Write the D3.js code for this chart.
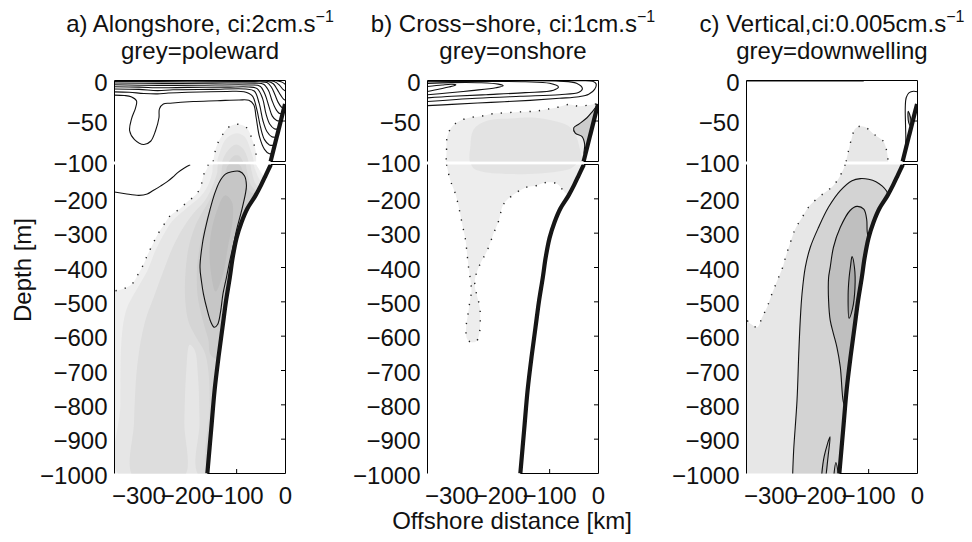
<!DOCTYPE html>
<html>
<head>
<meta charset="utf-8">
<script src="https://cdn.jsdelivr.net/npm/d3@7"></script>
<style>
  html, body { margin: 0; background: #fff; }
  svg { display: block; }
  text { font-family: "Liberation Sans", Arial, Helvetica, sans-serif; fill: #111; }
</style>
</head>
<body>
<svg id="fig" width="972" height="542"></svg>
<script>
// ---------------- axis ticks and labels ----------------
const distTicks = [-300, -200, -100, 0];
const depthTicksTop = [0, -50, -100];
const depthTicksBottom = [-200, -300, -400, -500, -600, -700, -800, -900, -1000];
const panelTitles = ["a) Alongshore, ci:2cm.s", "b) Cross\u2212shore, ci:1cm.s", "c) Vertical,ci:0.005cm.s"];
const panelTitleExp = ["\u22121", "\u22121", "\u22121"];
const panelSubtitles = ["grey=poleward", "grey=onshore", "grey=downwelling"];

// ---------------- bathymetry [km offshore, depth m] ----------------
const shelfBreak = [[-30.5, -100], [-1, -29]];
const slope = [[-30, -100], [-40, -130], [-50, -160], [-62, -192], [-78, -228], [-90, -268], [-100, -313],
  [-108, -370], [-114, -429], [-122, -500], [-129, -575], [-137, -660], [-145, -756], [-152, -870], [-160, -1000]];

// ---------------- a) alongshore velocity ----------------
const alongTopShading = [
  {level: 0, pts: [[-149, -106], [-148, -100], [-141, -81], [-131, -69], [-117, -58], [-100, -54], [-80, -58], [-68, -73], [-61, -87], [-60, -100], [-60, -106]]},
  {level: 1, pts: [[-138, -106], [-133, -86], [-120, -71], [-100, -65], [-84, -69], [-73, -83], [-67, -106]]},
  {level: 2, pts: [[-129, -106], [-121, -89], [-101, -79], [-86, -85], [-77, -106]]},
  {level: 3, pts: [[-118, -106], [-108, -94], [-95, -93], [-86, -106]]}
];
const alongCore = [[-94, -120], [-110, -121], [-123, -128], [-135, -150], [-145, -185], [-155, -234], [-163, -280],
  [-170, -330], [-175, -399], [-172, -440], [-168, -477], [-160, -525], [-153, -558], [-146, -574], [-139, -566],
  [-133, -530], [-128, -477], [-121, -430], [-114, -380], [-106, -330], [-100, -290], [-90, -235], [-82, -185],
  [-80, -160], [-84, -133]];
const alongBottomShading = [
  {level: 0, pts: [[-158, -95], [-160, -110], [-168, -132], [-175, -171], [-189, -195], [-202, -210], [-216, -229], [-236, -249],
    [-250, -278], [-263, -307], [-273, -336], [-283, -365], [-290, -389], [-301, -418], [-314, -448], [-331, -462],
    [-345, -467], [-355, -468], [-355, -1010], [5, -1010], [5, -140], [-42, -135], [-55, -112], [-60, -100], [-62, -95]]},
  {level: 1, pts: [[-146, -95], [-150, -125], [-160, -165], [-175, -195], [-205, -230], [-232, -265], [-250, -305], [-266, -350],
    [-283, -410], [-305, -465], [-325, -520], [-335, -600], [-338, -800], [-338, -1010], [5, -1010], [5, -150],
    [-48, -150], [-62, -115], [-68, -95]]},
  {level: 2, pts: [[-136, -95], [-140, -125], [-150, -165], [-165, -205], [-190, -245], [-212, -290], [-232, -345], [-250, -410],
    [-268, -480], [-288, -560], [-303, -680], [-310, -850], [-311, -1010], [-208, -1010], [-207, -850], [-203, -700],
    [-196, -625], [-186, -640], [-179, -720], [-176, -850], [-175, -1010], [5, -1010], [5, -165], [-56, -165],
    [-70, -115], [-74, -95]]},
  {level: 3, pts: [[-126, -95], [-132, -130], [-142, -170], [-160, -215], [-182, -270], [-198, -340], [-205, -420], [-205, -500],
    [-198, -560], [-182, -605], [-166, -645], [-158, -700], [-155, -800], [-153, -1010], [5, -1010], [5, -172],
    [-64, -172], [-80, -112], [-83, -95]]},
  {level: 4, pts: [[-116, -100], [-126, -140], [-142, -190], [-160, -250], [-173, -320], [-181, -400], [-180, -480], [-170, -550],
    [-158, -610], [-150, -660], [5, -660], [5, -190], [-72, -180], [-86, -125], [-95, -100]]},
  {level: 5, pts: alongCore},
  {level: 6, pts: [[-124, -190], [-144, -250], [-155, -330], [-153, -410], [-143, -470], [-128, -420], [-118, -340], [-108, -262], [-110, -208]]}
];
const alongTopContours = [
  [[-350, -18], [-330, -18.5], [-316, -20], [-305, -25], [-307, -34], [-315, -47], [-319, -62], [-309, -73], [-290, -79],
   [-276, -75], [-266, -62], [-259, -46], [-258, -35], [-250, -29], [-236, -28], [-189, -26], [-140, -25], [-95, -24],
   [-75, -24.5], [-65, -30], [-60, -46], [-53, -70], [-43, -85], [-33, -90.5], [-26.5, -90]],
  [[-350, -14], [-320, -14.5], [-290, -16], [-262, -16.5], [-240, -15.5], [-200, -14.5], [-120, -13.5], [-85, -14],
   [-68, -19], [-59, -35], [-51, -58], [-43, -73], [-33, -79.5], [-22, -80]],
  [[-350, -10.5], [-300, -11], [-262, -12.5], [-230, -11.5], [-150, -11], [-82, -10.5], [-64, -13], [-54, -28], [-46, -50],
   [-38, -63], [-28, -69.5], [-18, -70]],
  [[-350, -7.8], [-300, -8.2], [-255, -9], [-200, -8.5], [-120, -8.2], [-76, -8], [-58, -10], [-47, -22], [-40, -41],
   [-32, -54], [-23, -59.5], [-14, -60]],
  [[-350, -5.3], [-260, -6], [-180, -5.8], [-72, -5.5], [-52, -7], [-42, -17], [-34, -32], [-27, -44], [-18, -49.5], [-10, -50]],
  [[-350, -3], [-250, -3.6], [-150, -3.3], [-62, -3.3], [-45, -4.5], [-35, -12], [-28, -24], [-21, -34], [-13, -40.5], [-6, -41]],
  [[-350, -1.2], [-200, -1.5], [-100, -1.4], [-52, -1.6], [-38, -2.6], [-29, -8], [-22, -17], [-15, -27], [-8, -33], [-3, -34]],
  [[-70, -0.6], [-38, -1], [-25, -4], [-17, -11], [-10, -18], [-4, -23], [0, -24.5]],
  [[-40, -0.4], [-22, -1.5], [-12, -6], [-5, -11], [0, -13]],
  [[-20, -0.3], [-9, -1.5], [-3, -3.5], [0, -5]]
];
const alongBottomContours = [
  [[-350, -180], [-328, -185], [-300, -190], [-283, -186], [-271, -176], [-256, -163], [-242, -150], [-230, -136],
   [-220, -123], [-207, -110], [-195, -101]]
];
const alongZeroTop = [[-148, -100], [-141, -81], [-131, -69], [-117, -58], [-100, -54], [-80, -58], [-68, -73], [-61, -87], [-60, -100]];
const alongZeroBottom = [[-158, -100], [-168, -132], [-175, -171], [-189, -195], [-202, -210], [-216, -229], [-236, -249],
  [-250, -278], [-263, -307], [-273, -336], [-283, -365], [-290, -389], [-301, -418], [-314, -448], [-331, -462],
  [-345, -467], [-350, -468]];

// ---------------- b) cross-shore velocity ----------------
const crossNearshore = [[-2, -30], [-12, -38], [-23.6, -46], [-40.5, -54], [-50.7, -58.5], [-47.5, -65], [-34, -69],
  [-28.3, -79], [-29.5, -90], [-27, -93]];
const crossTopShading = [
  {level: 0, pts: [[-5, -29], [-13, -29.6], [-40.5, -31.7], [-61, -29.6], [-88, -33.7], [-109, -35.8], [-129, -37.9], [-156, -38.6],
    [-190, -39.9], [-217, -41.1], [-241, -44.1], [-265, -46], [-285, -50.2], [-299, -56.4], [-307, -64.6], [-311, -74.7],
    [-311, -87], [-312, -100], [-312, -108], [5, -108], [5, -29]]},
  {level: 1, pts: [[-258, -106], [-262, -80], [-255, -60], [-230, -50], [-180, -47], [-130, -46], [-90, -50], [-62, -56],
    [-48, -66], [-40, -80], [-38, -106]]},
  {level: 2, pts: [[-2, -30], [-12, -38], [-23.6, -46], [-40.5, -54], [-50.7, -58.5], [-47.5, -65], [-34, -69],
    [-28.3, -79], [-29.5, -90], [-27, -93], [5, -95], [5, -28]]}
];
const crossBottomShading = [
  {level: 0, pts: [[-312, -95], [-310, -108], [-303, -147], [-293, -185], [-286, -224], [-279, -273], [-272, -321], [-269, -360],
    [-266, -399], [-262, -438], [-260, -470], [-263, -496], [-267, -535], [-271, -574], [-269, -608], [-260, -618],
    [-250, -615], [-244, -593], [-242, -554], [-243, -516], [-249, -480], [-253, -455], [-252, -428], [-242, -389],
    [-228, -351], [-215, -302], [-204, -263], [-194, -215], [-167, -181], [-147, -166], [-126, -161], [-106, -152],
    [-85, -156], [-72, -176], [-65, -185], [5, -185], [5, -95]]},
  {level: 1, pts: [[-260, -95], [-255, -112], [-235, -122], [-180, -128], [-120, -126], [-80, -120], [-55, -110], [-45, -95]]}
];
const crossTopContours = [
  [[-350, -7.5], [-320, -5.5], [-300, -4.6], [-292, -5.2], [-300, -7.2], [-325, -10.5], [-350, -13.5]],
  [[-350, -3.5], [-300, -2.6], [-240, -2.8], [-205, -4.5], [-195, -6.5], [-210, -9], [-260, -12.5], [-310, -15.5], [-350, -17.5]],
  [[-350, -1.6], [-250, -1.3], [-150, -1.6], [-100, -3.5], [-82, -8], [-92, -12], [-150, -15], [-230, -17.5], [-300, -19.5], [-350, -21.5]],
  [[-350, -0.6], [-200, -0.5], [-80, -0.8], [-45, -3.5], [-33, -10], [-40, -14.5], [-80, -17.5], [-160, -19.5], [-250, -22], [-350, -26]],
  [[-350, -31], [-300, -29.5], [-220, -27], [-140, -24.5], [-80, -22], [-40, -20], [-20, -17], [-8, -11], [-5, -4], [-12, -1], [-40, -0.3], [-80, -0.2]],
  crossNearshore
];
const crossZeroTop = [[-5, -29], [-13, -29.6], [-40.5, -31.7], [-61, -29.6], [-88, -33.7], [-109, -35.8], [-129, -37.9],
  [-156, -38.6], [-190, -39.9], [-217, -41.1], [-241, -44.1], [-265, -46], [-285, -50.2], [-299, -56.4], [-307, -64.6],
  [-311, -74.7], [-311, -87], [-312, -100]];
const crossZeroBottom = [[-311, -100], [-310, -108], [-303, -147], [-293, -185], [-286, -224], [-279, -273], [-272, -321],
  [-269, -360], [-266, -399], [-262, -438], [-260, -470], [-263, -496], [-267, -535], [-271, -574], [-269, -608],
  [-260, -618], [-250, -615], [-244, -593], [-242, -554], [-243, -516], [-249, -480], [-253, -455], [-252, -428],
  [-242, -389], [-228, -351], [-215, -302], [-204, -263], [-194, -215], [-167, -181], [-147, -166], [-126, -161],
  [-106, -152], [-85, -156], [-72, -176], [-62, -188]];

// ---------------- c) vertical velocity ----------------
const vertCoastLoop = [[0, -14], [-8, -13.2], [-17, -15], [-23, -21], [-25, -33], [-24.5, -55], [-24, -75], [-26.5, -91], [-28, -97]];
const vertCoastCore = [[-19, -38], [-16, -42], [-13, -50], [-15, -56], [-18, -52], [-19.5, -45]];
const vertOuter = [[-255.5, -1003], [-253.5, -933], [-246.6, -787], [-243, -650], [-240, -554], [-236.4, -477], [-229.6, -399],
  [-219.4, -341], [-202.5, -283], [-182, -224], [-158, -176], [-134, -147], [-117, -141], [-100, -143], [-85, -150],
  [-72, -163], [-63, -178], [-60, -190]];
const vertInner = [[-147, -812], [-152, -790], [-158, -690], [-165, -632], [-172, -593], [-178.6, -554], [-182, -496],
  [-182, -430], [-178.6, -399], [-172, -341], [-158, -283], [-138, -234], [-124, -222], [-110, -230], [-104, -260],
  [-103, -295], [-100, -320]];
const vertCore = [[-134, -368], [-129, -400], [-128, -460], [-133, -520], [-140, -548], [-142, -480], [-140, -430], [-137, -395]];
const vertDeepTongues = [
  [[-196, -1003], [-191, -950], [-179, -893], [-183, -950], [-187, -1003]],
  [[-171, -1003], [-167, -968], [-162, -1003]]
];
const vertTopShading = [
  {level: 0, pts: [[-146, -106], [-146, -100], [-141, -86], [-135, -72], [-128, -60], [-118, -56.5], [-107, -57.5], [-90, -66],
    [-70, -75], [-63, -87], [-60, -100], [-60, -106]]},
  {level: 3, pts: vertCoastCore}
];
const vertBottomShading = [
  {level: 0, pts: [[-148, -95], [-148, -100], [-158, -132], [-172, -161], [-189, -181], [-202, -195], [-223, -224], [-236, -254],
    [-250, -287], [-260, -326], [-270, -370], [-277, -404], [-287, -438], [-298, -477], [-308, -516], [-318, -545],
    [-328, -574], [-342, -564], [-355, -552], [-355, -1010], [5, -1010], [5, -95]]},
  {level: 1, pts: vertOuter.concat([[5, -190], [5, -1010], [-256, -1010]])},
  {level: 2, pts: vertInner.concat([[5, -320], [5, -812]])},
  {level: 2, pts: vertDeepTongues[0]},
  {level: 2, pts: vertDeepTongues[1]},
  {level: 3, pts: vertCore}
];
const vertTopContours = [[[-350, -0.6], [-220, -0.6], [-110, -0.5]], vertCoastLoop];
const vertZeroTop = [[-146, -100], [-141, -86], [-135, -72], [-128, -60], [-118, -56.5], [-107, -57.5], [-90, -66], [-70, -75], [-63, -87], [-60, -100]];
const vertZeroBottom = [[-148, -100], [-158, -132], [-172, -161], [-189, -181], [-202, -195], [-223, -224], [-236, -254],
  [-250, -287], [-260, -326], [-270, -370], [-277, -404], [-287, -438], [-298, -477], [-308, -516], [-318, -545],
  [-328, -574], [-342, -564], [-350, -552]];

// grey ramps (contour level -> fill)
const alongShades = ["#efefef", "#e6e6e6", "#dddddd", "#d5d5d5", "#cdcdcd", "#c6c6c6", "#bebebe"];
const crossShades = ["#ededed", "#e3e3e3", "#cdcdcd"];
const vertShades = ["#e7e7e7", "#d3d3d3", "#bfbfbf", "#a9a9a9"];

// ---------------- figure layout ----------------
const svg = d3.select("#fig");
const panelLeft = [114.5, 427.5, 746.5];
const panelW = 171;
const topRange = [80.5, 161.5];
const bottomRange = [164.5, 473.5];
const FS = 24;

const panels = [
  {shades: alongShades,
   top: {fills: alongTopShading, lines: alongTopContours, loops: [], zero: [alongZeroTop]},
   bottom: {fills: alongBottomShading, lines: alongBottomContours, loops: [alongCore], zero: [alongZeroBottom]}},
  {shades: crossShades,
   top: {fills: crossTopShading, lines: crossTopContours, loops: [], zero: [crossZeroTop]},
   bottom: {fills: crossBottomShading, lines: [], loops: [], zero: [crossZeroBottom]}},
  {shades: vertShades,
   top: {fills: vertTopShading, lines: vertTopContours, loops: [vertCoastCore], zero: [vertZeroTop]},
   bottom: {fills: vertBottomShading, lines: [vertOuter, vertInner].concat(vertDeepTongues), loops: [vertCore], zero: [vertZeroBottom]}}
];

const openCurve = d3.curveCatmullRom.alpha(0.5);
const closedCurve = d3.curveCatmullRomClosed.alpha(0.5);
const defs = svg.append("defs");
const fmt = d => d3.format("d")(d).replace("-", "\u2212");

function drawSection(pi, key, x, y, sec, shades, coast) {
  const clipId = `clip-${pi}-${key}`;
  const [y0, y1] = y.range();
  defs.append("clipPath").attr("id", clipId).append("rect")
    .attr("x", x.range()[0]).attr("y", y0).attr("width", panelW).attr("height", y1 - y0);
  const g = svg.append("g").attr("clip-path", `url(#${clipId})`);
  const closed = d3.line().x(d => x(d[0])).y(d => y(d[1])).curve(closedCurve);
  const open = d3.line().x(d => x(d[0])).y(d => y(d[1])).curve(openCurve);
  const straight = d3.line().x(d => x(d[0])).y(d => y(d[1]));

  // filled contour levels
  g.selectAll(null).data(sec.fills.slice().sort((a, b) => a.level - b.level)).join("path")
    .attr("d", d => closed(d.pts)).attr("fill", d => shades[d.level]).attr("stroke", "none");

  // land beneath the bottom profile
  const first = coast[0], last = coast[coast.length - 1];
  const land = key === "top"
    ? coast.concat([[10, last[1]], [10, first[1] - 10], [first[0], first[1] - 10]])
    : coast.concat([[last[0], last[1] - 20], [10, last[1] - 20], [10, first[1]]]);
  g.append("path").attr("d", straight(land)).attr("fill", "#fff");

  // contour lines
  g.selectAll(null).data(sec.lines).join("path")
    .attr("d", open).attr("fill", "none").attr("stroke", "#111").attr("stroke-width", 1.1);
  g.selectAll(null).data(sec.loops).join("path")
    .attr("d", closed).attr("fill", "none").attr("stroke", "#111").attr("stroke-width", 1.1);
  // zero contour, dotted
  g.selectAll(null).data(sec.zero).join("path")
    .attr("d", open).attr("fill", "none").attr("stroke", "#222").attr("stroke-width", 1.4)
    .attr("stroke-dasharray", "1.3 8.2");
  // bottom profile
  g.append("path").attr("d", open(coast)).attr("fill", "none")
    .attr("stroke", "#161616").attr("stroke-width", 4.2);
}

panels.forEach((p, i) => {
  const L = panelLeft[i], R = L + panelW;
  const x = d3.scaleLinear().domain([-350, 0]).range([L, R]);
  const yT = d3.scaleLinear().domain([0, -100]).range(topRange);
  const yB = d3.scaleLinear().domain([-100, -1000]).range(bottomRange);

  drawSection(i, "top", x, yT, p.top, p.shades, shelfBreak);
  drawSection(i, "bottom", x, yB, p.bottom, p.shades, slope);

  // axes boxes (the parts not hidden by the fills)
  const fr = svg.append("g").attr("fill", "none").attr("stroke", "#000").attr("stroke-width", 1);
  fr.append("path").attr("d", `M${L},${topRange[1]}V${topRange[0]}H${R}V${topRange[1]}H${x(shelfBreak[0][0])}`);
  fr.append("path").attr("d", `M${L},${bottomRange[0]}V${bottomRange[1]}`);
  fr.append("path").attr("d", `M${x(slope[0][0])},${bottomRange[0]}H${R}V${bottomRange[1]}H${x(slope[slope.length - 1][0])}`);

  // inward ticks on the land side
  fr.selectAll(null).data(depthTicksBottom.slice(0, -1)).join("line")
    .attr("x1", R).attr("x2", R - 4.5).attr("y1", d => yB(d)).attr("y2", d => yB(d));
  fr.selectAll(null).data([-50]).join("line")
    .attr("x1", R).attr("x2", R - 4.5).attr("y1", d => yT(d)).attr("y2", d => yT(d));
  fr.selectAll(null).data(distTicks.filter(d => d > slope[slope.length - 1][0] && d < 0)).join("line")
    .attr("x1", d => x(d)).attr("x2", d => x(d)).attr("y1", bottomRange[1]).attr("y2", bottomRange[1] - 4.5);

  // tick labels
  const lab = svg.append("g").attr("font-size", FS);
  lab.selectAll(null).data(depthTicksTop).join("text")
    .attr("x", L - 7).attr("y", d => yT(d) + 10.3).attr("text-anchor", "end").text(fmt);
  lab.selectAll(null).data(depthTicksBottom).join("text")
    .attr("x", L - 7).attr("y", d => yB(d) + 10.3).attr("text-anchor", "end").text(fmt);
  lab.selectAll(null).data(distTicks).join("text")
    .attr("x", d => x(d)).attr("y", 503.5).attr("text-anchor", "middle").text(fmt);

  // titles
  const cx = (L + R) / 2;
  const t = svg.append("text").attr("x", cx).attr("y", 32).attr("text-anchor", "middle").attr("font-size", 24);
  t.append("tspan").text(panelTitles[i]);
  t.append("tspan").attr("dy", -10.5).attr("font-size", 16).text(panelTitleExp[i]);
  svg.append("text").attr("x", cx).attr("y", 59).attr("text-anchor", "middle").attr("font-size", 24)
    .text(panelSubtitles[i]);
});

svg.append("text").attr("transform", "translate(31,270) rotate(-90)").attr("text-anchor", "middle")
  .attr("font-size", FS).text("Depth [m]");
svg.append("text").attr("x", 512).attr("y", 529).attr("text-anchor", "middle")
  .attr("font-size", FS).text("Offshore distance [km]");
</script>
</body>
</html>
